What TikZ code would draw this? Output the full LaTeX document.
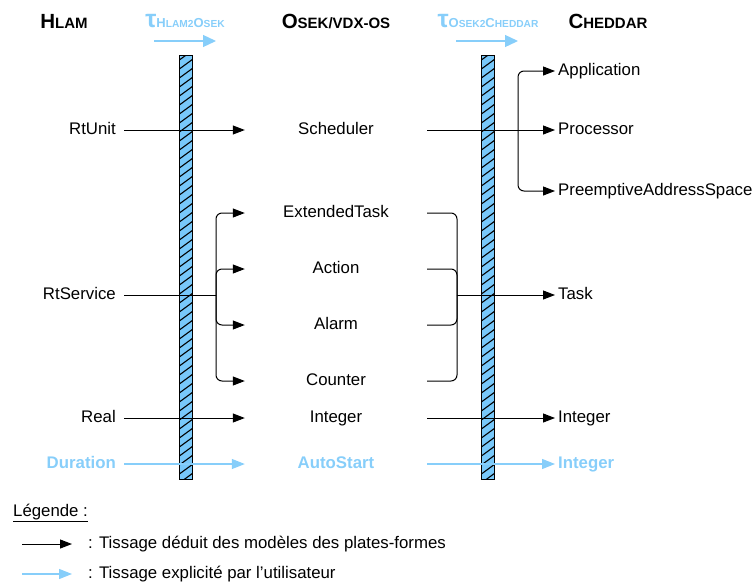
\documentclass[tikz,border=0pt]{standalone}
\usepackage{fontspec}
\setmainfont{Liberation Sans}
\usetikzlibrary{arrows.meta}
\definecolor{lblue}{RGB}{135,206,250}
\definecolor{barblue}{RGB}{120,200,250}
\newcommand\BigL[1]{{\fontsize{20.5}{21}\selectfont #1}}
\newcommand\SmL[1]{{\fontsize{15}{16}\selectfont #1}}
\newcommand\TauM[1]{{\fontsize{13}{14}\selectfont #1}}
\newcommand\TauS[1]{{\fontsize{10.2}{11}\selectfont #1}}
\newcommand\TauG{{\fontsize{25}{25}\selectfont\textbf{τ}}}
\begin{document}
\begin{tikzpicture}[x=1pt,y=-1pt,
  every node/.style={font=\fontsize{16.8}{18}\selectfont, inner sep=0pt, text height=12pt, text depth=3pt},
  lnode/.style={anchor=east, inner xsep=8pt},
  mnode/.style={minimum width=182pt},
  rnode/.style={anchor=west, inner xsep=3pt},
  blue/.style={text=lblue, font=\fontsize{16.8}{18}\selectfont\bfseries},
  arr/.style={line width=1pt, -{Triangle[length=12pt,width=9pt]}},
  barr/.style={line width=1.2pt, draw=lblue, -{Triangle[length=13pt,width=10pt]}, lblue},
  tarr/.style={line width=1.3pt, draw=lblue, -{Triangle[length=13pt,width=12pt]}, lblue},
  title/.style={font=\bfseries, anchor=base, text height=, text depth=}
]
\useasboundingbox (0,0) rectangle (754,584);

% titles
\node[title] (thlam) at (64,28) {\BigL{H}\SmL{LAM}};
\node[title] (tosek) at (336,28) {\BigL{O}\SmL{SEK/VDX-OS}};
\node[title] (tched) at (608,28) {\BigL{C}\SmL{HEDDAR}};
\node[title, text=lblue] (tau1) at (185,27) {\TauG\TauM{H}\TauS{LAM2}\TauM{O}\TauS{SEK}};
\node[title, text=lblue] (tau2) at (488,27) {\TauG\TauM{O}\TauS{SEK2}\TauM{C}\TauS{HEDDAR}};
\coordinate (ta1s) at (154,41); \coordinate (ta1e) at (216,41);
\coordinate (ta2s) at (456,41); \coordinate (ta2e) at (518,41);
\draw[tarr] (ta1s) -- (ta1e);
\draw[tarr] (ta2s) -- (ta2e);

% bars
\foreach \bx/\nm in {179/barA,481/barB}{
  \fill[barblue] (\bx,55) rectangle (\bx+13,479);
  \begin{scope}
    \clip (\bx,55) rectangle (\bx+13,479);
    \foreach \yy in {50,59,...,490}
      \draw[line width=1.1pt] (\bx-1,\yy+11) -- (\bx+14,\yy);
  \end{scope}
  \draw[line width=1pt] (\bx,55) rectangle (\bx+13,479);
}

% left column
\node[lnode] (rtunit) at (124,130) {RtUnit};
\node[lnode] (rtservice) at (124,295) {RtService};
\node[lnode] (real) at (124,418) {Real};
\node[lnode, blue] (duration) at (124,464) {Duration};

% middle column
\node[mnode] (sched) at (336,130) {Scheduler};
\node[mnode] (ext) at (336,213) {ExtendedTask};
\node[mnode] (action) at (336,269) {Action};
\node[mnode] (alarm) at (336,325) {Alarm};
\node[mnode] (counter) at (336,381) {Counter};
\node[mnode] (intm) at (336,418) {Integer};
\node[mnode, blue] (autostart) at (336,464) {AutoStart};

% right column
\node[rnode] (app) at (555,71) {Application};
\node[rnode] (proc) at (555,130) {Processor};
\node[rnode] (pas) at (555,191) {PreemptiveAddressSpace};
\node[rnode] (task) at (555,295) {Task};
\node[rnode] (intr) at (555,418) {Integer};
\node[rnode, blue] (intb) at (555,464) {Integer};

% connectors
\draw[arr] (rtunit.east) -- (sched.west);
\draw[arr] (sched.east) -- (proc.west);
\coordinate (sb) at (518,130);
\draw[arr, rounded corners=6pt] (sb) |- (app.west);
\draw[arr, rounded corners=6pt] (sb) |- (pas.west);

\coordinate (lb) at (216,295);
\draw[line width=1pt] (rtservice.east) -- (lb);
\foreach \t in {ext,action,alarm,counter}
  \draw[arr, rounded corners=6pt] (lb) |- (\t.west);

\coordinate (rb) at (457,295);
\foreach \t in {ext,action,alarm,counter}
  \draw[line width=1pt, rounded corners=6pt] (\t.east) -| (rb);
\draw[arr] (rb) -- (task.west);

\draw[arr] (real.east) -- (intm.west);
\draw[arr] (intm.east) -- (intr.west);
\draw[barr] (duration.east) -- (autostart.west);
\draw[barr] (autostart.east) -- (intb.west);

% legend
\node[anchor=west] (leg) at (13,512) {\underline{Légende :}};
\coordinate (l1s) at (22,544); \coordinate (l1e) at (72,544);
\coordinate (l2s) at (22,574); \coordinate (l2e) at (72,574);
\draw[arr] (l1s) -- (l1e);
\draw[barr] (l2s) -- (l2e);
\node[anchor=west] (leg1) at (88,544) {: Tissage déduit des modèles des plates-formes};
\node[anchor=west] (leg2) at (88,574) {: Tissage explicité par l’utilisateur};
\end{tikzpicture}
\end{document}
